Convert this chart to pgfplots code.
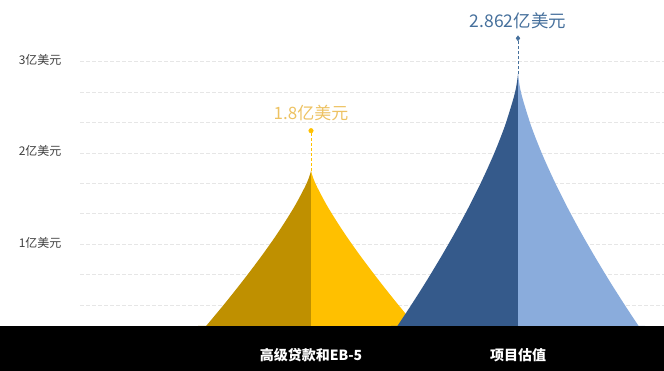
\documentclass[border=0pt]{standalone}
\usepackage{fontspec}
\setmainfont{Noto Sans CJK SC}
\usepackage{pgfplots}
\pgfplotsset{compat=1.18}
\definecolor{ydark}{HTML}{BF9000}
\definecolor{ylight}{HTML}{FFC000}
\definecolor{bdark}{HTML}{355A8B}
\definecolor{blight}{HTML}{8AACDC}
\definecolor{ylabel}{HTML}{EDC262}
\definecolor{blabel}{HTML}{46709C}
\definecolor{gridc}{HTML}{E6E6E6}
\begin{document}
\begin{tikzpicture}
\useasboundingbox (0pt,0pt) rectangle (664pt,371pt);
\fill[black] (0pt,0pt) rectangle (664pt,45pt);
\begin{axis}[at={(80pt,45pt)}, anchor=south west, scale only axis,
 width=584pt, height=319.2pt,
 xmin=80, xmax=664, ymin=0.104, ymax=3.6,
 axis line style={draw=none}, tick style={draw=none},
 ytick={0.3333,0.6667,1,1.3333,1.6667,2,2.3333,2.6667,3},
 yticklabels={,,1亿美元,,,2亿美元,,,3亿美元},
 ymajorgrids, grid style={gridc, dash pattern=on 4pt off 2pt, line width=0.6pt},
 yticklabel style={font=\fontsize{12}{12}\selectfont, text=black!75, xshift=-15pt, yshift=1.5pt},
 xtick={311,518}, xticklabels={高级贷款和EB-5,项目估值},
 xticklabel style={font=\bfseries\fontsize{14}{14}\selectfont, text=white, anchor=center, yshift=-29.5pt},
 clip=true,
]
% yellow shape (1.8)
\addplot[draw=none, fill=ydark, smooth] coordinates {(198,0) (211.9,0.18) (225.5,0.36) (238.6,0.54) (251.3,0.72) (263.5,0.9) (275.1,1.08) (285.9,1.26) (295.9,1.44) (304.6,1.62) (308.3,1.71) (311,1.8)} \closedcycle;
\addplot[draw=none, fill=ylight, smooth] coordinates {(311,1.8) (313.7,1.71) (317.4,1.62) (326.1,1.44) (336.1,1.26) (346.9,1.08) (358.5,0.9) (370.7,0.72) (383.4,0.54) (396.5,0.36) (410.1,0.18) (424,0)} \closedcycle;
% blue shape (2.862)
\addplot[draw=none, fill=bdark, smooth] coordinates {(391,0) (408.4,0.2862) (425.1,0.5724) (440.9,0.8586) (455.9,1.1448) (469.9,1.431) (482.8,1.7172) (494.5,2.0034) (504.7,2.2896) (512.9,2.5758) (516.1,2.7189) (518,2.862)} \closedcycle;
\addplot[draw=none, fill=blight, smooth] coordinates {(518,2.862) (519.9,2.7189) (523.1,2.5758) (531.3,2.2896) (541.5,2.0034) (553.2,1.7172) (566.1,1.431) (580.1,1.1448) (595.1,0.8586) (610.9,0.5724) (627.6,0.2862) (645,0)} \closedcycle;
% value markers
\addplot[ylight, densely dashed, line width=0.6pt, mark=*, mark size=2.2pt, mark indices={2}, mark options={solid}] coordinates {(311,1.8) (311,2.243)} node[pos=1, yshift=18pt, text=ylabel, font=\fontsize{17}{17}\selectfont] {1.8亿美元};
\addplot[blabel, densely dashed, line width=0.6pt, mark=diamond*, mark size=2.4pt, mark indices={2}, mark options={solid}] coordinates {(518,2.862) (518,3.255)} node[pos=1, yshift=17.5pt, text=blabel, font=\fontsize{17.5}{17.5}\selectfont] {2.862亿美元};
\end{axis}
\end{tikzpicture}
\end{document}
